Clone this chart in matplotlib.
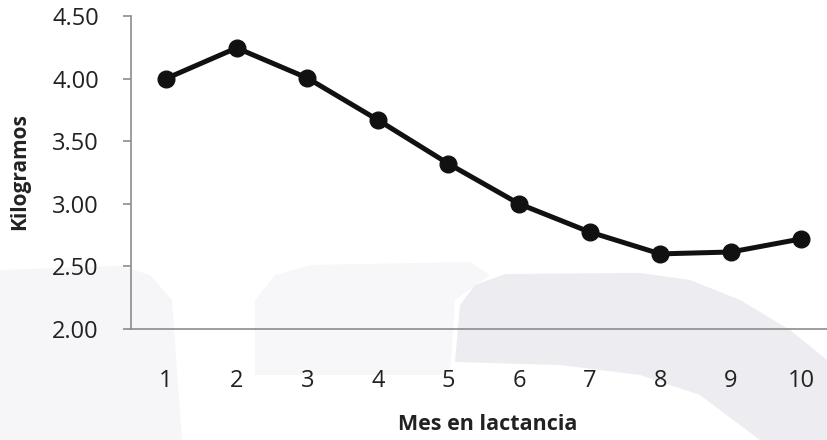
import matplotlib.pyplot as plt
from matplotlib.patches import Polygon

months = [1, 2, 3, 4, 5, 6, 7, 8, 9, 10]
kilos = [4.00, 4.245, 4.005, 3.67, 3.32, 3.00, 2.775, 2.60, 2.615, 2.72]
yticks = [2.00, 2.50, 3.00, 3.50, 4.00, 4.50]

plt.rcParams['font.family'] = ['Open Sans', 'DejaVu Sans']

fig = plt.figure(figsize=(8.27, 4.4), dpi=100)

# faint watermark shapes in the background
bg = fig.add_axes([0, 0, 1, 1], zorder=-1)
bg.set_xlim(0, 827)
bg.set_ylim(440, 0)
bg.axis('off')
bg.add_patch(Polygon([(0, 270), (120, 266), (150, 275), (172, 300), (182, 440), (0, 440)],
                     closed=True, color='#f6f6f8', lw=0))
bg.add_patch(Polygon([(255, 300), (275, 275), (310, 265), (470, 262), (490, 275),
                      (455, 300), (450, 375), (255, 375)],
                     closed=True, color='#f7f7f9', lw=0))
bg.add_patch(Polygon([(455, 362), (460, 305), (475, 285), (505, 274), (640, 273),
                      (690, 280), (740, 300), (790, 330), (827, 360), (827, 440),
                      (760, 440), (700, 395), (640, 375), (560, 365)],
                     closed=True, color='#ececf1', lw=0))

ax = fig.add_axes([130.7 / 827, (440 - 329) / 440, 706 / 827, 313 / 440])
ax.patch.set_alpha(0)
ax.plot(months, kilos, color='#111111', lw=3.6, marker='o', markersize=12,
        solid_joinstyle='round')

ax.set_xlim(0.5, 10.5)
ax.set_ylim(2.0, 4.5)
ax.set_xticks(months)
ax.set_yticks(yticks)
ax.set_yticklabels(['{:.2f}'.format(v) for v in yticks])

for s in ['top', 'right']:
    ax.spines[s].set_visible(False)
for s in ['left', 'bottom']:
    ax.spines[s].set_color('#8c8c8c')
    ax.spines[s].set_linewidth(1.2)

ax.tick_params(axis='y', length=6, width=1.2, color='#8c8c8c', pad=17,
               labelsize=17, labelcolor='#222222')
ax.tick_params(axis='x', length=0, pad=29, labelsize=17, labelcolor='#222222')

fig.text(20 / 827, 1 - 172 / 440, 'Kilogramos', rotation=90, ha='center',
         va='center', fontsize=15, fontweight='bold', color='#222222')
fig.text(488 / 827, 1 - 424 / 440, 'Mes en lactancia', ha='center',
         va='center', fontsize=15.5, fontweight='bold', color='#222222')

fig.savefig('out.png', dpi=100)
